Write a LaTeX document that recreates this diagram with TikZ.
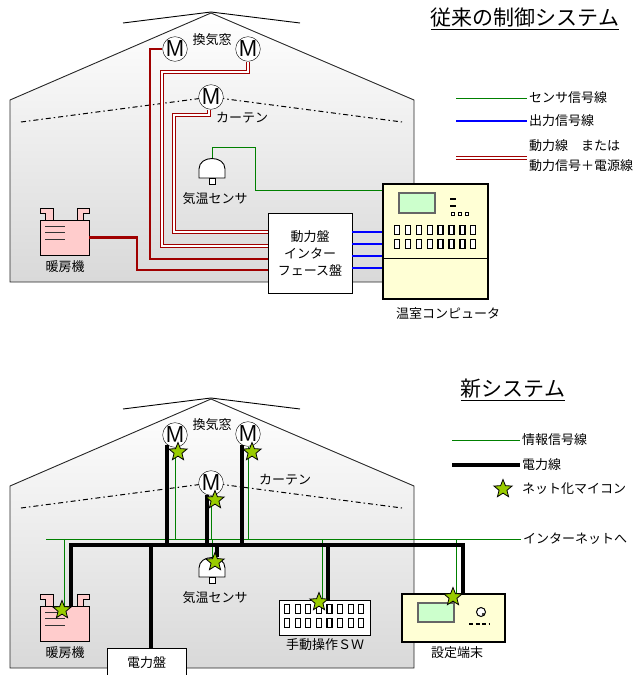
\documentclass[tikz,border=0pt]{standalone}
\usepackage{fontspec}
\setmainfont{Noto Sans CJK JP}
\usetikzlibrary{positioning, shapes.geometric}
\definecolor{pwrred}{RGB}{160,0,0}
\definecolor{siggreen}{RGB}{0,128,0}
\definecolor{pinkbox}{RGB}{255,204,204}
\definecolor{pcyellow}{RGB}{255,255,213}
\definecolor{lcd}{RGB}{204,255,204}
\definecolor{mcugreen}{RGB}{153,204,0}

\begin{document}
\begin{tikzpicture}[x=1pt, y=-1pt,
		lbl/.style={font=\fontsize{13}{16}\selectfont, inner sep=2pt},
		ttl/.style={font=\fontsize{21}{24}\selectfont, inner sep=0pt},
		motor/.style={draw, circle, fill=white, minimum size=23pt, inner sep=0pt, font=\sffamily\fontsize{23}{23}\selectfont},
		plate/.style={draw, fill=white, line width=0.9pt},
		power/.style={draw=pwrred, line width=2.8pt},
		dpower/.style={draw=pwrred, double=white, double distance=1.6pt, line width=1.2pt},
		sig/.style={draw=siggreen, line width=1pt},
		outsig/.style={draw=blue, line width=2.8pt},
		info/.style={draw=siggreen, line width=0.9pt},
		bus/.style={draw=black, line width=4pt},
		curtain/.style={line width=1pt, dash pattern=on 5pt off 3pt on 1.5pt off 3pt},
		mcu/.style={star, star points=5, star point ratio=2.3, minimum size=19pt, inner sep=0pt, draw, line width=0.8pt, fill=mcugreen},
		]
		\useasboundingbox (0,0) rectangle (640,675);

		% the two greenhouses with heater
		\foreach \n/\dy in {A/0,B/386}{
			\begin{scope}[shift={(0,\dy)}]
				\shadedraw[top color=white, bottom color=black!15, draw=black!85, line width=0.9pt]
					(10,282) -- (10,100) -- (211,13) -- (414,100) -- (414,282) -- cycle;
				\draw[line width=0.9pt] (123,23) -- (211,12) -- (300,23);
				\draw[curtain] (21,122) -- (211,97) -- (402,122);
				\draw[fill=pinkbox, line width=0.9pt] (40,208) -- (53,208) -- (53,220) -- (45,220) -- (45,213) -- (40,213) -- cycle;
				\draw[fill=pinkbox, line width=0.9pt] (89,208) -- (77,208) -- (77,220) -- (83,220) -- (83,213) -- (89,213) -- cycle;
				\node[draw, fill=pinkbox, line width=0.9pt, minimum width=49pt, minimum height=35pt] (heater\n) at (64.5,237.5) {};
				\draw[black!80, line width=1pt] (45,226) -- (65,226) (45,232) -- (65,232) (45,239) -- (65,239);
				\node[lbl] (heatlbl\n) at (65,267) {暖房機};
			\end{scope}
		}
		% temperature sensors
		\foreach \n/\dy in {A/0,B/399}{
			\begin{scope}[shift={(0,\dy)}]
				\draw[fill=white, line width=0.9pt] (199,178) -- (199,169) .. controls (199,155) and (225,155) .. (225,169) -- (225,178) -- cycle;
				\draw[fill=white, line width=0.9pt] (209,178) rectangle (215,184);
				\coordinate (sens\n) at (212,158);
				\node[lbl] (senslbl\n) at (215,199) {気温センサ};
			\end{scope}
		}

		% ---- conventional system ----
		\node[motor] (ventA1) at (175,49) {M};
		\node[motor] (ventA2) at (248,49) {M};
		\node[motor] (curtA) at (211,97) {M};
		\node[lbl] (ventlblA) at (212,40) {換気窓};
		\node[lbl] (curtlblA) at (242,118) {カーテン};

		\node[plate, minimum width=84pt, minimum height=80pt, align=center, font=\fontsize{13}{17}\selectfont] (ifbox) at (310,253) {動力盤\\インター\\フェース盤};

		\node[draw, fill=pcyellow, line width=1.5pt, minimum width=105pt, minimum height=115pt] (pc) at (435.5,241.5) {};
		\draw[line width=1pt] (pc.west |- 0,258) -- (pc.east |- 0,258);
		\draw[draw=black!60, line width=2pt, fill=lcd] (399,193) rectangle (435,213);
		\draw[line width=1.5pt] (450,199) -- (456,199) (450,206) -- (456,206);
		\foreach \x in {453,460,467}
			\draw[line width=0.8pt, fill=white] (\x-1.5,212) rectangle (\x+1.5,215);
		\foreach \i in {0,...,7}
			\foreach \y in {230,244}
				\draw[line width=1.3pt, fill=white] ({397+10.9*\i-2.5},\y-4.5) rectangle ++(5,9);
		\node[lbl] (pclbl) at (448,313) {温室コンピュータ};

		\draw[power] (heaterA.east) -| (137,270) -- (ifbox.west |- 0,270);
		\draw[power] (ventA1.west) -| (150,259) -- (ifbox.west |- 0,259);
		\draw[dpower] (ventA2.south) |- (162,72) |- (ifbox.west |- 0,246);
		\draw[dpower] ([xshift=-2pt]curtA.south) |- (174,115) |- (ifbox.west |- 0,232);
		\draw[sig] (sensA) |- (255,147) |- (pc.west |- 0,190);
		\foreach \y in {232,244,256,268}
			\draw[outsig] (ifbox.east |- 0,\y) -- (pc.west |- 0,\y);

		\node[ttl] (ttlA) at (525,19) {\underline{従来の制御システム}};
		\coordinate (lgsens0) at (456,98);
		\node[lbl, anchor=west] (lgsens) at (527,98) {センサ信号線};
		\draw[sig] (lgsens0) -- (lgsens.west);
		\coordinate (lgout0) at (456,121);
		\node[lbl, anchor=west] (lgout) at (527,121) {出力信号線};
		\draw[outsig] (lgout0) -- (lgout.west);
		\coordinate (lgpwr0) at (456,158);
		\node[lbl, anchor=west, align=left, font=\fontsize{13}{20}\selectfont] (lgpwr) at (527,156) {動力線　または\\動力信号＋電源線};
		\draw[dpower] (lgpwr0) -- (lgpwr.west |- lgpwr0);

		% ---- new system ----
		\node[motor] (ventB1) at (175,435) {M};
		\node[motor] (ventB2) at (248,434) {M};
		\node[motor] (curtB) at (211,483) {M};
		\node[lbl] (ventlblB) at (212,425) {換気窓};
		\node[lbl] (curtlblB) at (285,480) {カーテン};

		\node[plate, minimum width=79pt, minimum height=30pt, font=\fontsize{13}{16}\selectfont] (pwr) at (146.5,663) {電力盤};

		\node[plate, minimum width=91pt, minimum height=35pt] (sw) at (324.5,617.5) {};
		\foreach \i in {0,...,7}
			\foreach \y in {609,623}
				\draw[line width=1.2pt, fill=white] ({287+10.6*\i-2.5},\y-4.5) rectangle ++(5,9);
		\node[lbl] (swlbl) at (325,645) {手動操作ＳＷ};

		\node[draw, fill=pcyellow, line width=1.5pt, minimum width=103pt, minimum height=48pt] (term) at (453.5,618) {};
		\draw[draw=black!60, line width=2pt, fill=lcd] (418,603) rectangle (454,622);
		\draw[line width=1pt, fill=white] (481,612) circle[radius=4.5pt];
		\fill (483,614) circle[radius=1.2pt];
		\draw[line width=1.5pt, dash pattern=on 4pt off 2.5pt] (469,624) -- (489,624);
		\node[lbl] (termlbl) at (457,653) {設定端末};

		\coordinate (inetL) at (46,539);
		\coordinate (busL) at (70,545);
		\coordinate (busR) at (463,545);
		\node[lbl, anchor=west] (inet) at (521,539) {インターネットへ};

		\draw[info] (inetL) -- (inet.west);
		\draw[info] (heaterB.north) -- (heaterB.north |- inetL);
		\draw[info] (ventB1.south) -- (ventB1.south |- inetL);
		\draw[info] (ventB2.south) -- (ventB2.south |- inetL);
		\draw[info] (curtB.south) -- (curtB.south |- inetL);
		\draw[info] (sensB) -- (sensB |- inetL);
		\draw[info] ([xshift=-2pt]sw.north) -- ([xshift=-2pt]sw.north |- inetL);
		\draw[info] ([xshift=3pt]term.north) -- ([xshift=3pt]term.north |- inetL);

		\draw[bus] ([xshift=6pt]heaterB.north) |- (busR) -- (busR |- term.north);
		\draw[bus] (ventB1.230) -- (ventB1.230 |- busL);
		\draw[bus] (curtB.250) -- (curtB.250 |- busL);
		\draw[bus] (ventB2.240) -- (ventB2.240 |- busL);
		\draw[bus] ([xshift=5pt]sensB) -- ([xshift=5pt]sensB |- busL);
		\draw[bus] ([xshift=4pt]pwr.north) -- ([xshift=4pt]pwr.north |- busL);
		\draw[bus] ([xshift=3pt]sw.north) -- ([xshift=3pt]sw.north |- busL);

		\node[mcu] (mcuV1) at (178,452) {};
		\node[mcu] (mcuV2) at (252,452) {};
		\node[mcu] (mcuC) at (215,500) {};
		\node[mcu] (mcuS) at (215,562) {};
		\node[mcu] (mcuH) at (62,610) {};
		\node[mcu] (mcuSW) at (319,602) {};
		\node[mcu] (mcuT) at (453,597) {};

		\node[ttl] (ttlB) at (513,390) {\underline{新システム}};
		\coordinate (lginfo0) at (452,440);
		\node[lbl, anchor=west] (lginfo) at (520,440) {情報信号線};
		\draw[info] (lginfo0) -- (lginfo.west);
		\coordinate (lgbus0) at (452,465);
		\node[lbl, anchor=west] (lgbus) at (520,465) {電力線};
		\draw[bus] (lgbus0) -- (lgbus.west);
		\node[mcu] (lgmcu) at (503,489) {};
		\node[lbl, anchor=west] (lgmcutxt) at (520,489) {ネット化マイコン};
	\end{tikzpicture}
\end{document}
